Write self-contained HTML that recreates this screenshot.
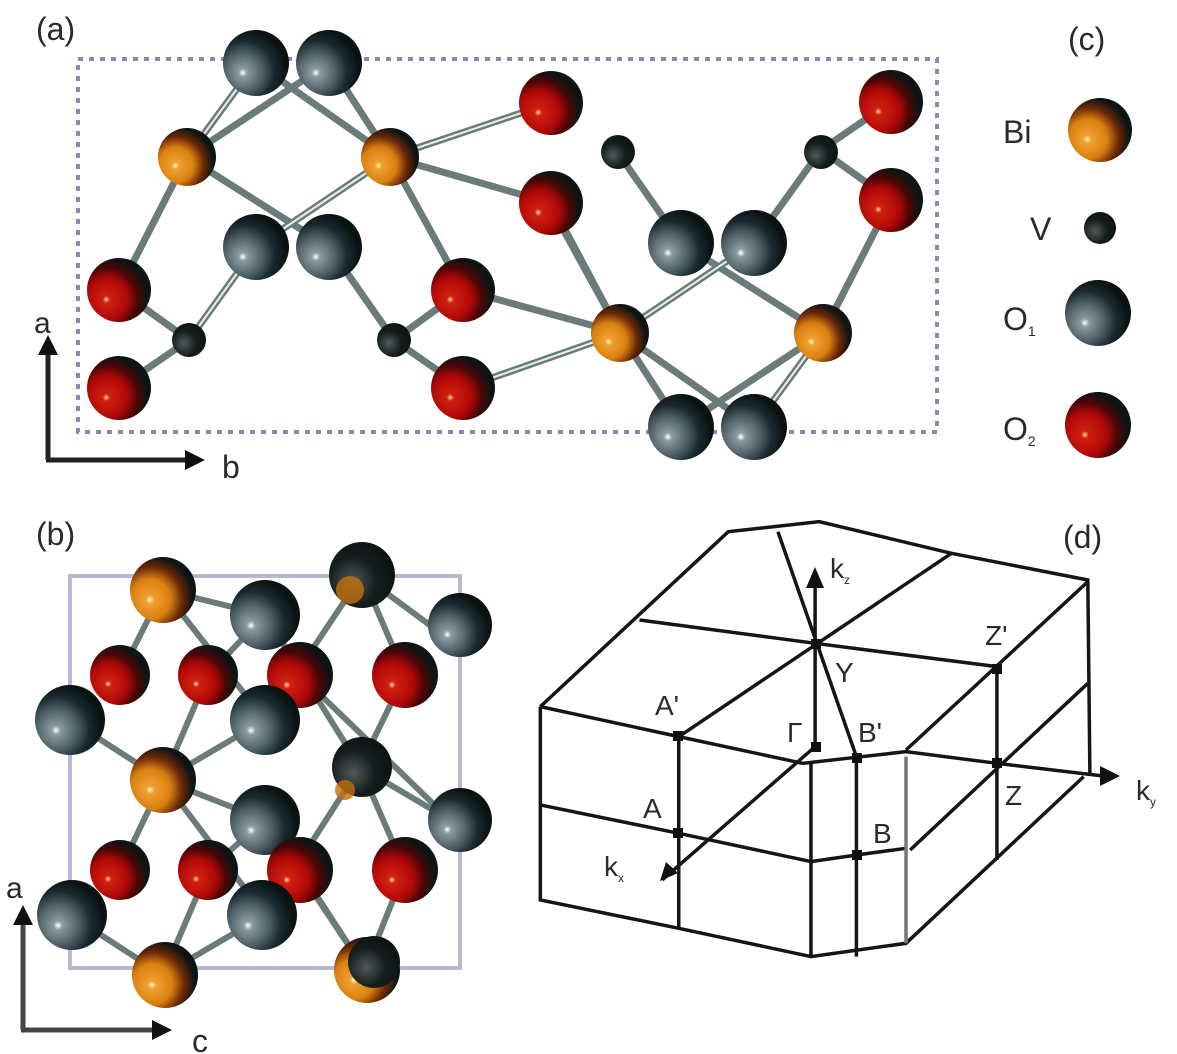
<!DOCTYPE html>
<html><head><style>
html,body{margin:0;padding:0;background:#fff;}
svg{display:block;}
text{font-family:"Liberation Sans",sans-serif;fill:#2a2a2a;}
</style></head><body>
<svg width="1177" height="1054" viewBox="0 0 1177 1054" xmlns="http://www.w3.org/2000/svg">
<defs>
<radialGradient id="gO" cx="0.32" cy="0.62" r="0.8" fx="0.3" fy="0.65">
<stop offset="0" stop-color="#fff8c0"/><stop offset="0.08" stop-color="#f0a030"/><stop offset="0.38" stop-color="#d98010"/><stop offset="0.6" stop-color="#6a2808"/><stop offset="0.8" stop-color="#0c1414"/><stop offset="1" stop-color="#0c1414"/></radialGradient>
<radialGradient id="gR" cx="0.32" cy="0.62" r="0.8" fx="0.3" fy="0.65">
<stop offset="0" stop-color="#ffd0a0"/><stop offset="0.07" stop-color="#d02010"/><stop offset="0.4" stop-color="#b00808"/><stop offset="0.6" stop-color="#4a0606"/><stop offset="0.8" stop-color="#0c1414"/><stop offset="1" stop-color="#0c1414"/></radialGradient>
<radialGradient id="gG" cx="0.32" cy="0.62" r="0.8" fx="0.3" fy="0.65">
<stop offset="0" stop-color="#ffffff"/><stop offset="0.08" stop-color="#8a9aa0"/><stop offset="0.36" stop-color="#4f6068"/><stop offset="0.58" stop-color="#1a2a30"/><stop offset="0.8" stop-color="#0a1212"/><stop offset="1" stop-color="#0a1212"/></radialGradient>
<radialGradient id="gV" cx="0.35" cy="0.6" r="0.75">
<stop offset="0" stop-color="#505858"/><stop offset="0.5" stop-color="#141c1c"/><stop offset="1" stop-color="#0a1010"/></radialGradient>
</defs>

<!-- Panel (a) -->
<text x="36" y="40" font-size="32">(a)</text>
<rect x="78" y="59" width="859" height="373" fill="none" stroke="#8a8ab0" stroke-width="4" stroke-dasharray="5,6"/>
<g stroke-linecap="round">
<g stroke="#6a7c7a" stroke-width="7">
<line x1="187" y1="157" x2="256" y2="63"/><line x1="187" y1="157" x2="329" y2="63"/>
<line x1="187" y1="157" x2="119" y2="290"/><line x1="187" y1="157" x2="329" y2="247"/>
<line x1="390" y1="157" x2="256" y2="63"/><line x1="390" y1="157" x2="329" y2="63"/>
<line x1="390" y1="157" x2="256" y2="247"/><line x1="390" y1="157" x2="551" y2="103"/>
<line x1="390" y1="157" x2="551" y2="203"/><line x1="390" y1="157" x2="463" y2="290"/>
<line x1="189" y1="340" x2="119" y2="290"/><line x1="189" y1="340" x2="119" y2="388"/>
<line x1="189" y1="340" x2="256" y2="247"/><line x1="394" y1="340" x2="329" y2="247"/>
<line x1="394" y1="340" x2="463" y2="290"/><line x1="394" y1="340" x2="463" y2="388"/>
<line x1="463" y1="290" x2="620" y2="333"/><line x1="463" y1="388" x2="620" y2="333"/>
<line x1="551" y1="203" x2="620" y2="333"/>
</g>
<g stroke="#e8f0ee" stroke-width="2">
<line x1="187" y1="157" x2="256" y2="63"/><line x1="390" y1="157" x2="551" y2="103"/>
<line x1="390" y1="157" x2="256" y2="247"/><line x1="189" y1="340" x2="256" y2="247"/>
<line x1="463" y1="388" x2="620" y2="333"/>
</g>
</g>
<g transform="rotate(180 505 245)">
<g stroke="#6a7c7a" stroke-width="7" stroke-linecap="round">
<line x1="187" y1="157" x2="256" y2="63"/><line x1="187" y1="157" x2="329" y2="63"/>
<line x1="187" y1="157" x2="119" y2="290"/><line x1="187" y1="157" x2="329" y2="247"/>
<line x1="390" y1="157" x2="256" y2="63"/><line x1="390" y1="157" x2="329" y2="63"/>
<line x1="390" y1="157" x2="256" y2="247"/>
<line x1="390" y1="157" x2="463" y2="290"/>
<line x1="189" y1="340" x2="119" y2="290"/><line x1="189" y1="340" x2="119" y2="388"/>
<line x1="189" y1="340" x2="256" y2="247"/><line x1="394" y1="340" x2="329" y2="247"/>
</g>
<g stroke="#e8f0ee" stroke-width="2">
<line x1="187" y1="157" x2="256" y2="63"/><line x1="390" y1="157" x2="256" y2="247"/>
</g>
</g>
<g>
<circle cx="256" cy="63" r="33" fill="url(#gG)"/><circle cx="329" cy="63" r="33" fill="url(#gG)"/>
<circle cx="256" cy="247" r="33" fill="url(#gG)"/><circle cx="329" cy="247" r="33" fill="url(#gG)"/>
<circle cx="681" cy="243" r="33" fill="url(#gG)"/><circle cx="754" cy="243" r="33" fill="url(#gG)"/>
<circle cx="681" cy="427" r="33" fill="url(#gG)"/><circle cx="754" cy="427" r="33" fill="url(#gG)"/>
<circle cx="187" cy="157" r="29" fill="url(#gO)"/><circle cx="390" cy="157" r="29" fill="url(#gO)"/>
<circle cx="620" cy="333" r="29" fill="url(#gO)"/><circle cx="823" cy="333" r="29" fill="url(#gO)"/>
<circle cx="119" cy="290" r="32" fill="url(#gR)"/><circle cx="119" cy="388" r="32" fill="url(#gR)"/>
<circle cx="463" cy="290" r="32" fill="url(#gR)"/><circle cx="463" cy="388" r="32" fill="url(#gR)"/>
<circle cx="551" cy="103" r="32" fill="url(#gR)"/><circle cx="551" cy="203" r="32" fill="url(#gR)"/>
<circle cx="891" cy="102" r="32" fill="url(#gR)"/><circle cx="891" cy="200" r="32" fill="url(#gR)"/>
<circle cx="189" cy="340" r="17" fill="url(#gV)"/><circle cx="394" cy="340" r="17" fill="url(#gV)"/>
<circle cx="618" cy="152" r="17" fill="url(#gV)"/><circle cx="821" cy="152" r="17" fill="url(#gV)"/>
</g>
<g stroke="#222" stroke-width="5"><line x1="48" y1="460" x2="48" y2="350"/><line x1="46" y1="460" x2="190" y2="460"/></g>
<polygon points="48,335 38,355 58,355" fill="#111"/><polygon points="205,460 185,450 185,470" fill="#111"/>
<text x="34" y="333" font-size="30">a</text><text x="222" y="478" font-size="32">b</text>

<!-- Panel (c) -->
<text x="1068" y="50" font-size="32">(c)</text>
<text x="1003" y="143" font-size="32">Bi</text><circle cx="1100" cy="130" r="32" fill="url(#gO)"/>
<text x="1030" y="240" font-size="32">V</text><circle cx="1100" cy="228" r="16" fill="url(#gV)"/>
<text x="1003" y="330" font-size="32">O<tspan font-size="14" dy="6">1</tspan></text><circle cx="1098" cy="313" r="33" fill="url(#gG)"/>
<text x="1003" y="440" font-size="32">O<tspan font-size="14" dy="6">2</tspan></text><circle cx="1098" cy="425" r="33" fill="url(#gR)"/>

<!-- Panel (b) -->
<text x="36" y="545" font-size="32">(b)</text>
<rect x="70" y="576" width="390" height="392" fill="none" stroke="#b8b8d0" stroke-width="4"/>
<g stroke="#6a7c7a" stroke-width="6" stroke-linecap="round">
<line x1="163" y1="590" x2="265" y2="720"/><line x1="163" y1="590" x2="120" y2="675"/>
<line x1="163" y1="590" x2="265" y2="615"/><line x1="362" y1="575" x2="265" y2="720"/>
<line x1="362" y1="575" x2="450" y2="640"/><line x1="362" y1="575" x2="405" y2="675"/>
<line x1="70" y1="720" x2="163" y2="780"/><line x1="265" y1="720" x2="163" y2="780"/>
<line x1="265" y1="615" x2="360" y2="767"/><line x1="208" y1="675" x2="265" y2="615"/>
<line x1="300" y1="675" x2="450" y2="820"/><line x1="405" y1="675" x2="360" y2="767"/>
<line x1="163" y1="780" x2="265" y2="915"/><line x1="163" y1="780" x2="120" y2="870"/>
<line x1="163" y1="780" x2="265" y2="820"/><line x1="360" y1="767" x2="265" y2="915"/>
<line x1="360" y1="767" x2="450" y2="820"/><line x1="360" y1="767" x2="405" y2="870"/>
<line x1="70" y1="915" x2="163" y2="975"/><line x1="265" y1="915" x2="163" y2="975"/>
<line x1="265" y1="820" x2="365" y2="970"/><line x1="208" y1="870" x2="265" y2="820"/>
<line x1="300" y1="870" x2="365" y2="970"/><line x1="405" y1="870" x2="365" y2="970"/>
<line x1="208" y1="870" x2="163" y2="975"/><line x1="208" y1="675" x2="163" y2="780"/>
</g>
<g>
<circle cx="163" cy="590" r="33" fill="url(#gO)"/><circle cx="362" cy="575" r="33" fill="url(#gV)"/>
<circle cx="350" cy="590" r="14" fill="#c0700c" opacity="0.8"/>
<circle cx="265" cy="615" r="35" fill="url(#gG)"/><circle cx="460" cy="625" r="32" fill="url(#gG)"/>
<circle cx="120" cy="675" r="30" fill="url(#gR)"/><circle cx="208" cy="675" r="30" fill="url(#gR)"/>
<circle cx="300" cy="675" r="33" fill="url(#gR)"/><circle cx="405" cy="675" r="33" fill="url(#gR)"/>
<circle cx="70" cy="720" r="35" fill="url(#gG)"/><circle cx="265" cy="720" r="35" fill="url(#gG)"/>
<circle cx="163" cy="780" r="33" fill="url(#gO)"/><circle cx="362" cy="767" r="30" fill="url(#gV)"/>
<circle cx="345" cy="790" r="10" fill="#c0700c" opacity="0.8"/>
<circle cx="265" cy="820" r="35" fill="url(#gG)"/><circle cx="460" cy="820" r="32" fill="url(#gG)"/>
<circle cx="120" cy="870" r="30" fill="url(#gR)"/><circle cx="208" cy="870" r="30" fill="url(#gR)"/>
<circle cx="300" cy="870" r="33" fill="url(#gR)"/><circle cx="405" cy="870" r="33" fill="url(#gR)"/>
<circle cx="72" cy="915" r="35" fill="url(#gG)"/><circle cx="262" cy="915" r="35" fill="url(#gG)"/>
<circle cx="165" cy="975" r="33" fill="url(#gO)"/><circle cx="367" cy="970" r="33" fill="url(#gO)"/>
<circle cx="374" cy="962" r="26" fill="url(#gV)"/>
</g>
<g stroke="#444" stroke-width="5"><line x1="23" y1="1030" x2="23" y2="920"/><line x1="21" y1="1030" x2="155" y2="1030"/></g>
<polygon points="23,905 13,925 33,925" fill="#111"/><polygon points="172,1030 152,1020 152,1040" fill="#111"/>
<text x="6" y="898" font-size="30">a</text><text x="192" y="1052" font-size="32">c</text>

<!-- Panel (d) -->
<text x="1063" y="548" font-size="32">(d)</text>
<g transform="translate(530,500) scale(0.4132,0.3333)" fill="none" stroke="#151515" stroke-width="3.5">
<path vector-effect="non-scaling-stroke" d="M25,620 L480,95 L700,65 L1020,160 L1350,240 L1355,820"/>
<path vector-effect="non-scaling-stroke" d="M25,620 L25,1200 L360,1285 L680,1370 L910,1330 L1340,830"/>
<path vector-effect="non-scaling-stroke" d="M360,710 L1020,160"/>
<path vector-effect="non-scaling-stroke" d="M910,750 L1350,245"/>
<path vector-effect="non-scaling-stroke" d="M920,1050 L1350,550"/>
<path vector-effect="non-scaling-stroke" d="M320,1140 L690,740"/>
<path vector-effect="non-scaling-stroke" d="M265,360 L690,430 L1130,500"/>
<path vector-effect="non-scaling-stroke" d="M25,620 L360,710 L660,790 L910,755 L1130,790 L1400,830"/>
<path vector-effect="non-scaling-stroke" d="M25,915 L360,1000 L680,1085 L790,1065 L910,1045"/>
<path vector-effect="non-scaling-stroke" d="M360,710 L360,1285 M680,790 L680,1370 M790,770 L790,1370 M1130,500 L1130,1080"/>
<path vector-effect="non-scaling-stroke" d="M910,770 L910,1330" stroke="#777"/>
<path vector-effect="non-scaling-stroke" d="M690,740 L690,230"/>
<path vector-effect="non-scaling-stroke" d="M600,95 L790,770"/>
</g>
<polygon points="815,567 806,588 824,588" fill="#111"/>
<polygon points="1120,776 1100,766 1100,786" fill="#111"/>
<polygon points="660,881 666,862 678,873" fill="#111"/>
<g fill="#111">
<rect x="673" y="731" width="10" height="10"/><rect x="811" y="639" width="10" height="10"/>
<rect x="811" y="742" width="10" height="10"/><rect x="852" y="753" width="10" height="10"/>
<rect x="992" y="664" width="10" height="10"/><rect x="992" y="758" width="10" height="10"/>
<rect x="673" y="828" width="10" height="10"/><rect x="852" y="850" width="10" height="10"/>
</g>
<g font-size="28">
<text x="830" y="578">k<tspan font-size="12" dy="6">z</tspan></text>
<text x="985" y="645">Z'</text>
<text x="835" y="682">Y</text>
<text x="655" y="715">A'</text>
<text x="787" y="742">Γ</text>
<text x="858" y="742">B'</text>
<text x="643" y="818">A</text>
<text x="873" y="843">B</text>
<text x="1005" y="805">Z</text>
<text x="604" y="876">k<tspan font-size="12" dy="6">x</tspan></text>
<text x="1136" y="800">k<tspan font-size="12" dy="6">y</tspan></text>
</g>
</svg>
</body></html>
